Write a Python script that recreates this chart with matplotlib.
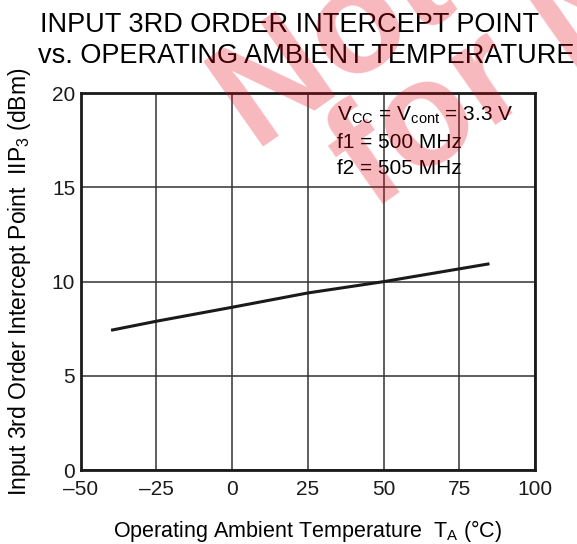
import numpy as np
import matplotlib
matplotlib.use('Agg')
import matplotlib.pyplot as plt

plt.rcParams['font.family'] = ['Liberation Sans', 'DejaVu Sans']
plt.rcParams['mathtext.fontset'] = 'custom'
plt.rcParams['mathtext.rm'] = 'Liberation Sans'

### data
temp = [-40, -25, 0, 25, 50, 85]
iip3 = [7.42, 7.9, 8.64, 9.4, 10.0, 10.95]

x_ticks = [-50, -25, 0, 25, 50, 75, 100]
x_ticklabels = ['\u201350', '\u201325', '0', '25', '50', '75', '100']
y_ticks = [0, 5, 10, 15, 20]

fig = plt.figure(figsize=(5.77, 5.44), dpi=100)
ax = fig.add_axes([0.14, 0.136, 0.787, 0.6925])

ax.plot(temp, iip3, color='#1a1a1a', lw=2.2, solid_capstyle='butt', zorder=3)

ax.set_xlim(-50, 100)
ax.set_ylim(0, 20)
ax.set_xticks(x_ticks)
ax.set_xticklabels(x_ticklabels)
ax.set_yticks(y_ticks)
ax.tick_params(length=0, labelsize=15, colors='#1a1a1a')
ax.tick_params(axis='x', pad=7)
ax.tick_params(axis='y', pad=4)
ax.grid(True, color='#333333', lw=1.1)
for s in ax.spines.values():
    s.set_linewidth(2)
    s.set_color('#1a1a1a')

ax.set_xlabel(r'Operating Ambient Temperature  T$_\mathregular{A}$ (°C)',
              fontsize=15.5, labelpad=14)
ax.set_ylabel(r'Input 3rd Order Intercept Point  IIP$_\mathregular{3}$ (dBm)',
              fontsize=16.5)
ax.yaxis.set_label_coords(-0.106, 0.5)

ax.text(0.565, (470 - 120.7) / 376.7,
        r'V$_\mathregular{CC}$ = V$_\mathregular{cont}$ = 3.3 V',
        transform=ax.transAxes, fontsize=15, va='baseline')
ax.text(0.565, (470 - 148.3) / 376.7, 'f1 = 500 MHz', transform=ax.transAxes,
        fontsize=15, va='baseline')
ax.text(0.565, (470 - 174) / 376.7, 'f2 = 505 MHz', transform=ax.transAxes,
        fontsize=15, va='baseline')

fig.text(40 / 577, 1 - 31.7 / 544, 'INPUT 3RD ORDER INTERCEPT POINT',
         fontsize=19.5, va='baseline')
fig.text(38 / 577, 1 - 63.3 / 544, 'vs. OPERATING AMBIENT TEMPERATURE',
         fontsize=19.5, va='baseline')

# red watermark
fig.text(255 / 577, 1 - 152 / 544, 'Not Recommended', fontsize=108,
         fontweight='bold', color='#e60012', alpha=0.28, rotation=35,
         rotation_mode='anchor', ha='left', va='baseline', zorder=10)
fig.text(372 / 577, 1 - 212 / 544, 'for New Design', fontsize=108,
         fontweight='bold', color='#e60012', alpha=0.28, rotation=35,
         rotation_mode='anchor', ha='left', va='baseline', zorder=10)

fig.savefig('out.png', dpi=100)
